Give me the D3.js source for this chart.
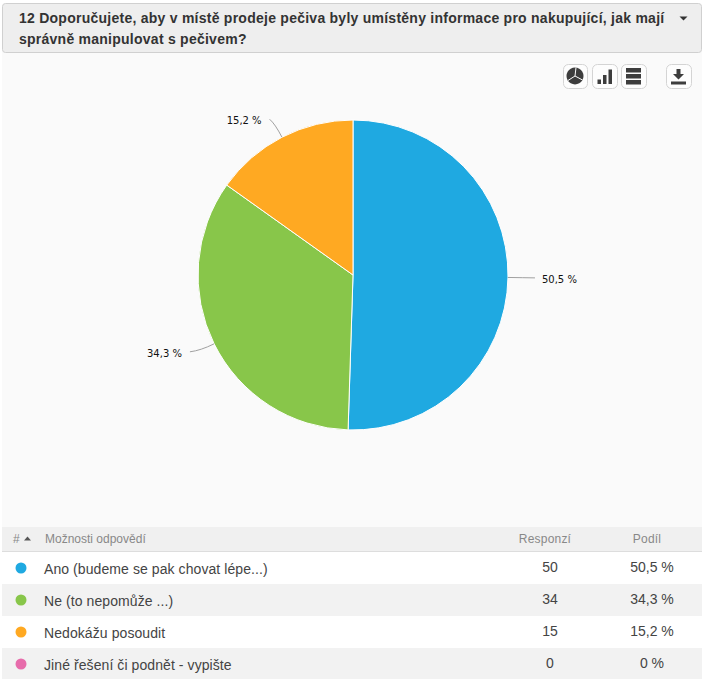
<!DOCTYPE html>
<html>
<head>
<meta charset="utf-8">
<script src="https://cdn.jsdelivr.net/npm/d3@7"></script>
<style>
  html, body { margin: 0; padding: 0; background: #fff; overflow: hidden; }
  svg { display: block; }
  text { font-family: "Liberation Sans", Arial, sans-serif; }
</style>
</head>
<body>
<div id="root"></div>
<script>
const titleLines = ['12 Doporučujete, aby v místě prodeje pečiva byly umístěny informace pro nakupující, jak mají', 'správně manipulovat s pečivem?'];
const answers = ['Ano (budeme se pak chovat lépe...)', 'Ne (to nepomůže ...)', 'Nedokážu posoudit', 'Jiné řešení či podnět - vypište'];
const responses = [50, 34, 15, 0];
const shares = ['50,5 %', '34,3 %', '15,2 %', '0 %'];
const colors = ['#1fa9e1', '#88c64a', '#ffa922', '#e76cab'];

const w = 705;
const h = 679;
const cx = 353;
const cy = 275;
const radius = 155;

const svg = d3.select('#root')
  .append('svg')
  .attr('width', w)
  .attr('height', h);

// panel
svg.append('rect')
  .attr('x', 2).attr('y', 40).attr('width', 700).attr('height', 500)
  .attr('fill', '#fafafa');

// title bar
svg.append('rect')
  .attr('x', 2.5).attr('y', 3.5).attr('width', 699).attr('height', 49)
  .attr('rx', 3)
  .attr('fill', '#eeeeee')
  .attr('stroke', '#d0d0d0');

svg.selectAll('.title')
  .data(titleLines)
  .enter()
  .append('text')
  .attr('class', 'title')
  .attr('x', 19)
  .attr('y', (d, i) => 23 + i * 21)
  .attr('font-size', 14)
  .attr('font-weight', 'bold')
  .attr('letter-spacing', 0.25)
  .attr('fill', '#333')
  .text(d => d);

svg.append('path')
  .attr('d', 'M679.5 16.5h8l-4 4z')
  .attr('fill', '#333');

// buttons
const buttons = [
  { x: 563, w: 24, d: 'M575 67.5a8.5 8.5 0 1 1 -0.01 0z' },
  { x: 592, w: 25, d: 'M597.5 79.5h3.5v4.5h-3.5zM603 75h3.5v9H603zM608.5 69.5h3.5v14.5h-3.5z' },
  { x: 621, w: 25, d: 'M626 68h15v4.5h-15zM626 74h15v4.5h-15zM626 80h15v4.5h-15z' },
  { x: 666, w: 25, d: 'M676.5 69h4v5h3.5l-5.5 5.5l-5.5 -5.5h3.5zM671 81.5h15v3h-15z' }
];

svg.selectAll('.btn')
  .data(buttons)
  .enter()
  .append('rect')
  .attr('class', 'btn')
  .attr('x', d => d.x + 0.5)
  .attr('y', 64.5)
  .attr('width', d => d.w)
  .attr('height', 24)
  .attr('rx', 5)
  .attr('fill', '#fdfdfd')
  .attr('stroke', '#d4d4d4');

svg.selectAll('.icon')
  .data(buttons)
  .enter()
  .append('path')
  .attr('class', 'icon')
  .attr('d', d => d.d)
  .attr('fill', '#3d3d3d');

svg.append('path')
  .attr('d', 'M575 76l1 -8.5M575 76l7.5 4M575 76l-7 4.5')
  .attr('fill', 'none')
  .attr('stroke', '#fdfdfd')
  .attr('stroke-width', 1);

// pie
const pie = d3.pie().sort(null).value(d => d);
const arcs = pie(responses.slice(0, 3));
const arc = d3.arc().innerRadius(0).outerRadius(radius);
const chart = svg.append('g').attr('transform', `translate(${cx}, ${cy})`);

chart.selectAll('.slice')
  .data(arcs)
  .enter()
  .append('path')
  .attr('class', 'slice')
  .attr('d', arc)
  .attr('fill', (d, i) => colors[i])
  .attr('stroke', '#ffffff')
  .attr('stroke-width', 1);

// popisky
const polar = (a, r) => [Math.sin(a) * r, -Math.cos(a) * r];
const midAngle = d => (d.startAngle + d.endAngle) / 2;
const labelEnd = d => {
  const p = polar(midAngle(d), 182);
  return [p[0], p[1] + (midAngle(d) > Math.PI ? (p[1] < 0 ? 6 : -4) : 0)];
};

chart.selectAll('.connector')
  .data(arcs)
  .enter()
  .append('path')
  .attr('class', 'connector')
  .attr('d', d => {
    const a = polar(midAngle(d), radius);
    const b = polar(midAngle(d), radius + 15);
    const c = labelEnd(d);
    const path = d3.path();
    path.moveTo(a[0], a[1]);
    path.quadraticCurveTo(b[0], b[1], c[0], c[1]);
    return path.toString();
  })
  .attr('fill', 'none')
  .attr('stroke', '#a0a0a0')
  .attr('stroke-width', 1);

chart.selectAll('.label')
  .data(arcs)
  .enter()
  .append('text')
  .attr('class', 'label')
  .attr('x', d => labelEnd(d)[0] + (midAngle(d) > Math.PI ? -8 : 7))
  .attr('y', d => labelEnd(d)[1] + 5)
  .attr('text-anchor', d => midAngle(d) > Math.PI ? 'end' : 'start')
  .style('font-family', '"DejaVu Sans", Verdana, sans-serif')
  .attr('font-size', 10)
  .attr('fill', '#111')
  .text((d, i) => shares[i]);

// tabella
const rowY = d3.scaleBand().domain(d3.range(answers.length)).range([552, 680]);

svg.append('rect')
  .attr('x', 2).attr('y', 527).attr('width', 700).attr('height', 24)
  .attr('fill', '#f0f0f0');
svg.append('line')
  .attr('x1', 2).attr('x2', 702).attr('y1', 551.5).attr('y2', 551.5)
  .attr('stroke', '#dddddd');

const headers = [
  { text: '#', x: 13, anchor: 'start', spacing: 0.3 },
  { text: 'Možnosti odpovědí', x: 45, anchor: 'start', spacing: 0 },
  { text: 'Responzí', x: 545, anchor: 'middle', spacing: 0.2 },
  { text: 'Podíl', x: 647, anchor: 'middle', spacing: 0.2 }
];

svg.selectAll('.head')
  .data(headers)
  .enter()
  .append('text')
  .attr('class', 'head')
  .attr('x', d => d.x)
  .attr('y', 543)
  .attr('text-anchor', d => d.anchor)
  .attr('font-size', 12)
  .attr('letter-spacing', d => d.spacing)
  .attr('fill', '#888')
  .text(d => d.text);

svg.append('path')
  .attr('d', 'M24 540.5l3.5 -4l3.5 4z')
  .attr('fill', '#555');

const rows = svg.selectAll('.row')
  .data(answers)
  .enter()
  .append('g')
  .attr('class', 'row')
  .attr('transform', (d, i) => `translate(0, ${rowY(i)})`);

rows.append('rect')
  .attr('x', 2)
  .attr('width', 700)
  .attr('height', rowY.bandwidth())
  .attr('fill', (d, i) => i % 2 ? '#f2f2f2' : '#ffffff');

rows.append('circle')
  .attr('cx', 21)
  .attr('cy', 16)
  .attr('r', 5.5)
  .attr('fill', (d, i) => colors[i]);

rows.append('text')
  .attr('x', 44)
  .attr('y', 22)
  .attr('font-size', 14)
  .attr('letter-spacing', 0.08)
  .attr('fill', '#444')
  .text(d => d);

rows.append('text')
  .attr('x', 550)
  .attr('y', 20)
  .attr('text-anchor', 'middle')
  .attr('font-size', 14)
  .attr('fill', '#444')
  .text((d, i) => responses[i]);

rows.append('text')
  .attr('x', 652)
  .attr('y', 20)
  .attr('text-anchor', 'middle')
  .attr('font-size', 14)
  .attr('fill', '#444')
  .text((d, i) => shares[i]);
</script>
</body>
</html>
